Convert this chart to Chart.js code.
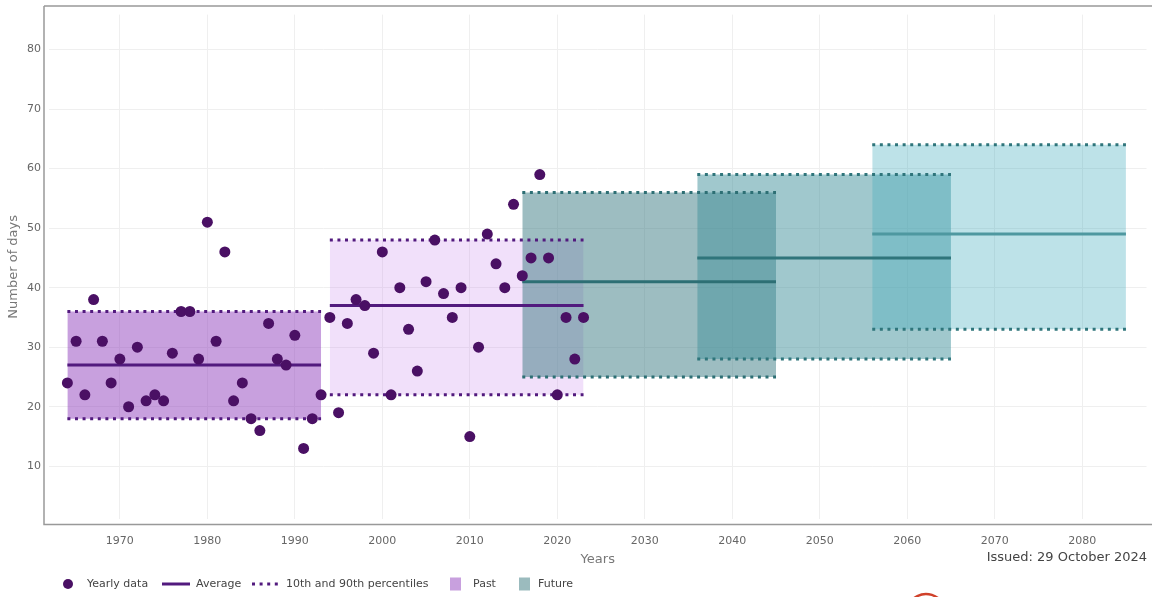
<!DOCTYPE html>
<html>
<head>
<meta charset="utf-8">
<script src="https://cdn.jsdelivr.net/npm/chart.js@4.4.1/dist/chart.umd.min.js"></script>
<style>
  html, body { margin: 0; padding: 0; background: #fff; }
  #wrap { width: 1152px; height: 597px; }
</style>
</head>
<body>
<div id="wrap"><canvas id="chart" width="1152" height="597"></canvas></div>
<script>
// yearly observations
const years = [
  1964, 1965, 1966, 1967, 1968, 1969, 1970, 1971, 1972, 1973,
  1974, 1975, 1976, 1977, 1978, 1979, 1980, 1981, 1982, 1983,
  1984, 1985, 1986, 1987, 1988, 1989, 1990, 1991, 1992, 1993,
  1994, 1995, 1996, 1997, 1998, 1999, 2000, 2001, 2002, 2003,
  2004, 2005, 2006, 2007, 2008, 2009, 2010, 2011, 2012, 2013,
  2014, 2015, 2016, 2017, 2018, 2019, 2020, 2021, 2022, 2023
];
const yearlyDays = [
  24, 31, 22, 38, 31, 24, 28, 20, 30, 21,
  22, 21, 29, 36, 36, 28, 51, 31, 46, 21,
  24, 18, 16, 34, 28, 27, 32, 13, 18, 22,
  35, 19, 34, 38, 37, 29, 46, 22, 40, 33,
  26, 41, 48, 39, 35, 40, 15, 30, 49, 44,
  40, 54, 42, 45, 59, 45, 22, 35, 28, 35
];

// 30-year periods (past and future)
const periodNames = ["1964-1993", "1994-2023", "2016-2045", "2036-2065", "2056-2085"];
const periodStart = [1964, 1994, 2016, 2036, 2056];
const periodEnd = [1993, 2023, 2045, 2065, 2085];
const periodAvg = [27, 37, 41, 45, 49];
const periodP10 = [18, 22, 25, 28, 33];
const periodP90 = [36, 48, 56, 59, 64];

// styles
const pointColor = "#4a1064";
const fillColors = [
  "rgba(145, 65, 190, 0.5)",
  "rgba(200, 130, 235, 0.25)",
  "rgba(59, 123, 131, 0.5)",
  "rgba(65, 145, 155, 0.5)",
  "rgba(66, 172, 189, 0.35)"
];
const dotColors = ["#521a7e", "#521a7e", "#2d6f74", "#2f757b", "#2f757b"];
const avgColors = ["#521a7e", "#521a7e", "#2d6f74", "#2f757b", "#4e98a0"];
const dash = [3, 4.6];

Chart.defaults.font.family = "'DejaVu Sans', Verdana, sans-serif";
Chart.defaults.color = "#777";

let datasets = [
  {
    label: "Yearly data",
    data: years.map((y, i) => ({ x: y, y: yearlyDays[i] })),
    showLine: false,
    pointRadius: 5.5,
    pointBackgroundColor: pointColor,
    pointBorderWidth: 0,
    order: 0,
  },
];
for (let k = 0; k < periodStart.length; k++) {
  const ends = [periodStart[k], periodEnd[k]];
  datasets.push({
    label: periodNames[k] + " 10th",
    data: ends.map((x) => ({ x: x, y: periodP10[k] })),
    borderColor: dotColors[k],
    borderWidth: 3,
    borderDash: dash,
    pointRadius: 0,
    fill: false,
    order: 10 - k,
  });
  datasets.push({
    label: periodNames[k] + " 90th",
    data: ends.map((x) => ({ x: x, y: periodP90[k] })),
    borderColor: dotColors[k],
    borderWidth: 3,
    borderDash: dash,
    pointRadius: 0,
    fill: "-1",
    backgroundColor: fillColors[k],
    order: 10 - k,
  });
  datasets.push({
    label: periodNames[k] + " average",
    data: ends.map((x) => ({ x: x, y: periodAvg[k] })),
    borderColor: avgColors[k],
    borderWidth: 3,
    pointRadius: 0,
    fill: false,
    order: 10 - k,
  });
}

// legend entries, axis frame, issue date and the logo edge
const legendItems = [
  { text: "Yearly data", kind: "dot", x: 62, tx: 87 },
  { text: "Average", kind: "line", x: 162, tx: 196 },
  { text: "10th and 90th percentiles", kind: "dots", x: 252, tx: 286 },
  { text: "Past", kind: "box", color: "#c8a0de", x: 450, tx: 473 },
  { text: "Future", kind: "box", color: "#9bbbbe", x: 519, tx: 538 },
];

const decorations = {
  id: "decorations",
  afterDraw(chart) {
    const ctx = chart.ctx;
    const a = chart.chartArea;
    ctx.save();
    // frame
    ctx.strokeStyle = "#999";
    ctx.lineWidth = 1.5;
    ctx.beginPath();
    ctx.moveTo(a.left - 5, 6);
    ctx.lineTo(a.left - 5, 524.5);
    ctx.lineTo(chart.width, 524.5);
    ctx.stroke();
    ctx.beginPath();
    ctx.moveTo(a.left - 5, 6);
    ctx.lineTo(chart.width, 6);
    ctx.stroke();

    // legend
    const ly = 584;
    ctx.font = "11px 'DejaVu Sans', Verdana, sans-serif";
    ctx.textBaseline = "middle";
    ctx.textAlign = "left";
    legendItems.forEach((it) => {
      if (it.kind == "dot") {
        ctx.fillStyle = pointColor;
        ctx.beginPath();
        ctx.arc(it.x + 6, ly, 5, 0, Math.PI * 2);
        ctx.fill();
      } else if (it.kind == "line" || it.kind == "dots") {
        ctx.strokeStyle = "#521a7e";
        ctx.lineWidth = 3;
        ctx.setLineDash(it.kind == "dots" ? dash : []);
        ctx.beginPath();
        ctx.moveTo(it.x, ly);
        ctx.lineTo(it.x + 28, ly);
        ctx.stroke();
        ctx.setLineDash([]);
      } else {
        ctx.fillStyle = it.color;
        ctx.fillRect(it.x, ly - 6.5, 11, 13);
      }
      ctx.fillStyle = "#444";
      ctx.fillText(it.text, it.tx, ly);
    });

    // issued
    ctx.font = "13px 'DejaVu Sans', Verdana, sans-serif";
    ctx.textAlign = "right";
    ctx.fillStyle = "#444";
    ctx.fillText("Issued: 29 October 2024", 1147, 558);

    // top of the logo peeking in at the bottom
    ctx.strokeStyle = "#d0412a";
    ctx.lineWidth = 2.5;
    ctx.beginPath();
    ctx.arc(926, 613, 19, Math.PI * 1.1, Math.PI * 1.9);
    ctx.stroke();
    ctx.beginPath();
    ctx.arc(926, 613, 13, Math.PI * 1.15, Math.PI * 1.85);
    ctx.stroke();
    ctx.restore();
  },
};

new Chart(document.getElementById("chart"), {
  type: "line",
  data: { datasets: datasets },
  options: {
    responsive: false,
    animation: false,
    events: [],
    layout: { padding: { left: 0, right: 4, top: 9, bottom: 0 } },
    plugins: {
      legend: { display: false },
      tooltip: { enabled: false },
      filler: { drawTime: "beforeDatasetsDraw" },
    },
    scales: {
      x: {
        type: "linear",
        min: 1961.9,
        max: 2087.35,
        grid: { color: "#efefef", drawTicks: false },
        border: { display: false },
        ticks: {
          stepSize: 10,
          includeBounds: false,
          padding: 16,
          font: { size: 11 },
          color: "#666",
          callback: (v) => String(v),
        },
        title: {
          display: true,
          text: "Years",
          color: "#777",
          font: { size: 13 },
          padding: { top: 0, bottom: 30 },
        },
        afterFit: (scale) => {
          scale.height = 78;
        },
      },
      y: {
        min: 1.15,
        max: 85.86,
        grid: { color: "#efefef", drawTicks: false },
        border: { display: false },
        ticks: {
          stepSize: 10,
          includeBounds: false,
          padding: 8,
          font: { size: 11 },
          color: "#666",
        },
        title: {
          display: true,
          text: "Number of days",
          color: "#777",
          font: { size: 13 },
          padding: { top: 6, bottom: 0 },
        },
        afterFit: (scale) => {
          scale.width = 49;
        },
      },
    },
  },
  plugins: [decorations],
});
</script>
</body>
</html>
